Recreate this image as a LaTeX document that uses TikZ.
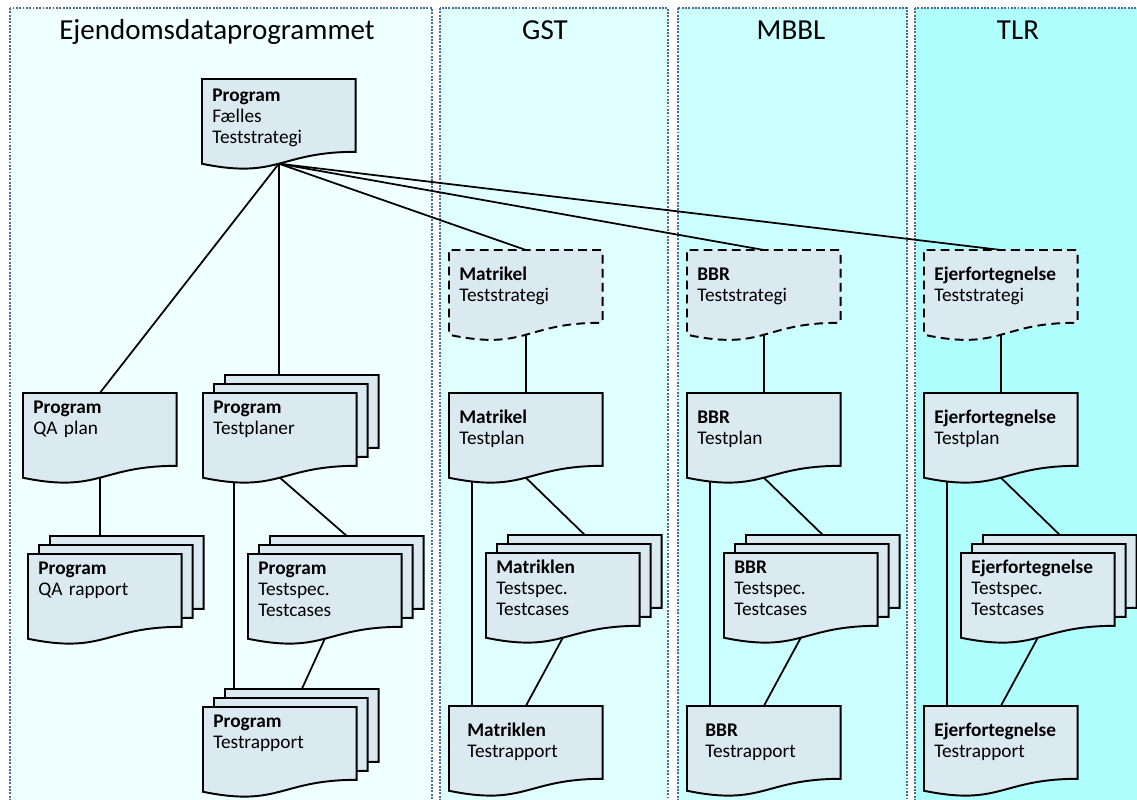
\documentclass[tikz,border=0pt]{standalone}
\usepackage{fontspec}
\setmainfont{Carlito}
\usetikzlibrary{calc}

\pgfdeclarelayer{panels}
\pgfdeclarelayer{lines}
\pgfdeclarelayer{docs}
\pgfsetlayers{panels,lines,docs,main}

\definecolor{docfill}{HTML}{DBEAF0}
\definecolor{frame}{HTML}{4A6A9C}
\definecolor{pone}{HTML}{F0FFFF}
\definecolor{ptwo}{HTML}{E0FFFF}
\definecolor{pthree}{HTML}{CCFFFF}
\definecolor{pfour}{HTML}{AFFFFF}

\tikzset{
  docbox/.style={anchor=north west, inner ysep=0pt, inner xsep=0.2cm,
    text width=2.66cm, align=left, font=\fontsize{11}{12}\selectfont,
    text height=0.408cm, text depth=1.272cm},
  deep/.style={text height=0.608cm, text depth=1.072cm},
  wide/.style={inner xsep=0.36cm, text width=2.34cm},
  narrow/.style={},
  docline/.style={draw=black, fill=docfill, line width=1.1pt},
  link/.style={draw=black, line width=1pt},
  panel/.style={draw=frame, line width=1.1pt, dash pattern=on 1.1pt off 0.8pt},
  title/.style={anchor=base, font=\fontsize{16.5}{19}\selectfont}
}

% outline of a document node (wavy bottom)
\newcommand\docshape[2][]{%
  \begin{pgfonlayer}{docs}
    \draw[docline,#1] (#2.north west) -- (#2.north east)
      -- ($(#2.north east)!0.86!(#2.south east)$)
      .. controls ($(#2.north)!0.86!(#2.south)$) and ($(#2.north)!1.187!(#2.south)$)
      .. ($(#2.north west)!1.001!(#2.south west)$) -- cycle;
  \end{pgfonlayer}
}
% the two sheets behind a stacked document
\newcommand\docstack[3]{%
  \foreach \i in {3,2} {
    \node[docbox] (#1-\i) at ({#2+11*(\i-1)},{#3-9*(\i-1)}) {};
    \docshape{#1-\i}
  }
}

\begin{document}
\begin{tikzpicture}[x=0.02cm,y=-0.02cm]
    \useasboundingbox (0,0) rectangle (1137,800);
    \begin{pgfonlayer}{panels}
      \begin{scope}
        \clip (0,0) rectangle (1137,800);
        \foreach \l/\r/\col in {10/432/pone,440/668/ptwo,678/907/pthree,915/1150/pfour}
          \draw[panel,fill=\col] (\l,8) rectangle (\r,815);
      \end{scope}
    \end{pgfonlayer}

    \node[title] (edp) at (217,40) {Ejendomsdataprogrammet};
    \node[title] (gst) at (545,40) {GST};
    \node[title] (mbbl) at (791,40) {MBBL};
    \node[title] (tlr) at (1018,40) {TLR};

    % program column
    \node[docbox, text height=0.448cm, text depth=1.232cm] (fts) at (202,79)
      {\textbf{Program}\\Fælles\\Teststrategi};
    \docshape{fts}
    \node[docbox] (qaplan) at (23,393) {\textbf{Program}\\QA plan};
    \docshape{qaplan}
    \docstack{pplan}{203}{393}
    \node[docbox] (pplan) at (203,393) {\textbf{Program}\\Testplaner};
    \docshape{pplan}
    \docstack{qarap}{28}{554}
    \node[docbox] (qarap) at (28,554) {\textbf{Program}\\QA rapport};
    \docshape{qarap}
    \docstack{pspec}{248}{554}
    \node[docbox] (pspec) at (248,554) {\textbf{Program}\\Testspec.\\Testcases};
    \docshape{pspec}
    \docstack{prap}{203}{707}
    \node[docbox] (prap) at (203,707) {\textbf{Program}\\Testrapport};
    \docshape{prap}

    \begin{pgfonlayer}{lines}
      \draw[link] (fts.south) -- (qaplan.north);
      \draw[link] (fts.south) -- (fts.south |- pplan-3.north);
      \draw[link] (qaplan.south) -- (qaplan.south |- qarap-3.north);
      \draw[link] (pplan.south) -- (pspec-3.north);
      \draw[link] (pspec.south) -- (prap-3.north);
      \draw[link] ($(pplan.south west)+(31,0)$) coordinate (pl) -- (pl |- prap-3.north);
    \end{pgfonlayer}

    % GST, MBBL, TLR columns
    \foreach \c/\dx/\who/\whom/\rapstyle in {g/0/Matrikel/Matriklen/wide,
        m/238/BBR/BBR/wide,t/475/Ejerfortegnelse/Ejerfortegnelse/narrow} {
      \node[docbox,deep] (\c-strat) at ({449+\dx},250) {\textbf{\who}\\Teststrategi};
      \docshape[dash pattern=on 5pt off 3pt, rounded corners=1.5pt]{\c-strat}
      \node[docbox,deep] (\c-plan) at ({449+\dx},393) {\textbf{\who}\\Testplan};
      \docshape{\c-plan}
      \docstack{\c-spec}{486+\dx}{553}
      \node[docbox] (\c-spec) at ({486+\dx},553) {\textbf{\whom}\\Testspec.\\Testcases};
      \docshape{\c-spec}
      \node[docbox,deep,\rapstyle] (\c-rap) at ({449+\dx},706) {\textbf{\whom}\\Testrapport};
      \docshape{\c-rap}
      \begin{pgfonlayer}{lines}
        \draw[link] (fts.south) -- (\c-strat.north);
        \draw[link] (\c-strat.south) -- (\c-plan.north);
        \draw[link] (\c-plan.south) -- (\c-spec-3.north);
        \draw[link] (\c-spec.south) -- (\c-rap.north);
        \draw[link] ($(\c-plan.south west)+(23,0)$) coordinate (\c-l) -- (\c-l |- \c-rap.north);
      \end{pgfonlayer}
    }
\end{tikzpicture}
\end{document}
